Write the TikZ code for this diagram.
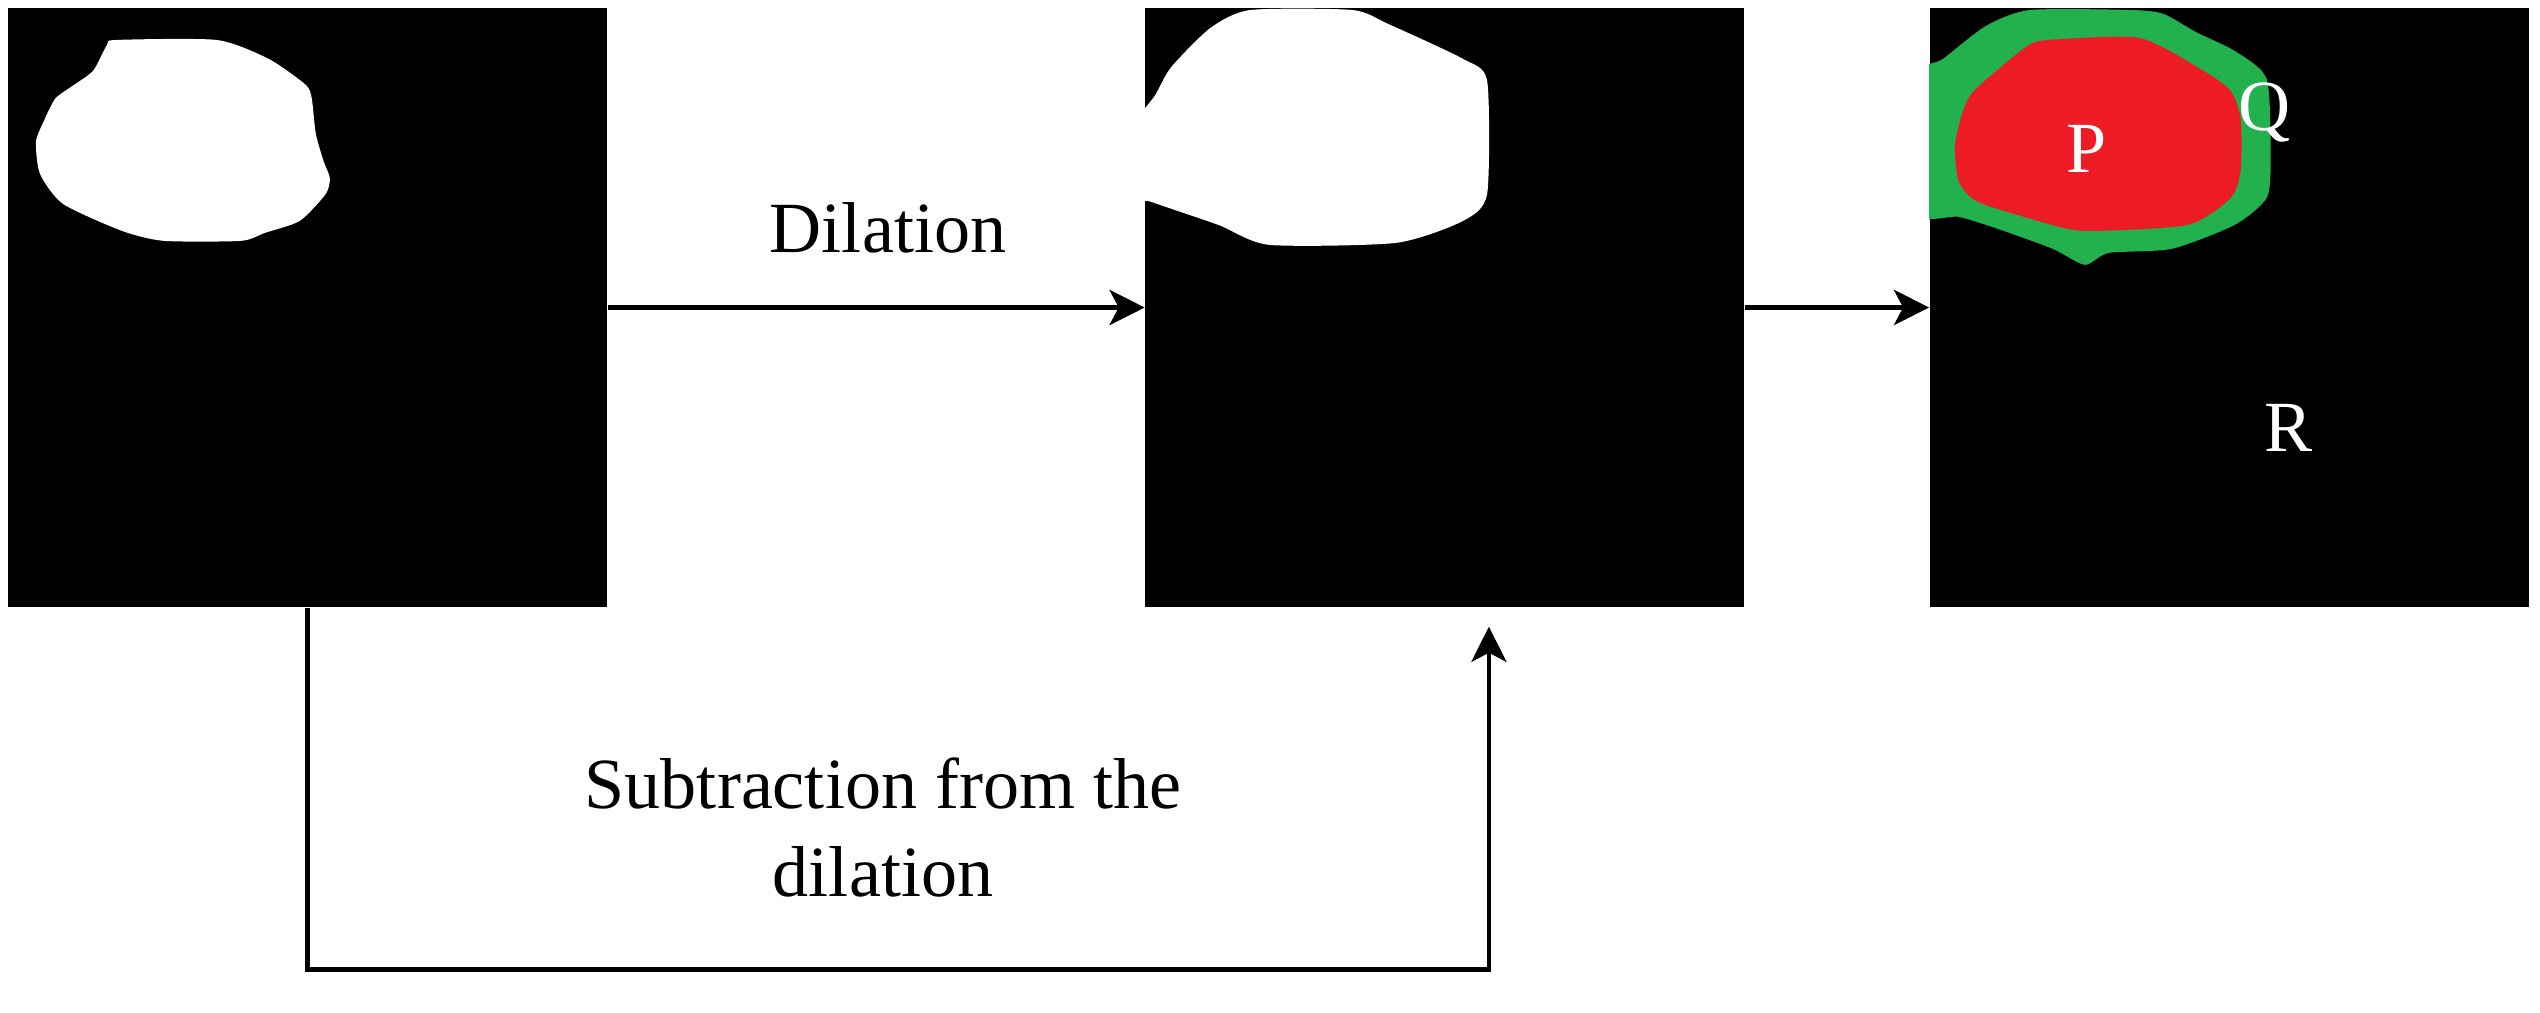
\documentclass[tikz,border=0pt]{standalone}
\usepackage{fontspec}
\setmainfont{Liberation Serif}
\usepackage{xcolor}
\usepackage{tikz}
\usetikzlibrary{arrows.meta, positioning, calc}

\definecolor{maskgreen}{HTML}{22B14C}
\definecolor{maskred}{HTML}{ED1C24}

\begin{document}
\begin{tikzpicture}[
    img/.style={rectangle, fill=black, minimum size=5.99cm, inner sep=0pt},
    line/.style={draw, -{Stealth[length=10pt, width=10pt, inset=2.6pt]}, line width=1.3pt},
    lbl/.style={font=\fontsize{20.5}{25}\selectfont, inner sep=0pt, anchor=base},
    tag/.style={lbl, text=white}
]
\useasboundingbox (0,0) rectangle (25.40,10.12);

\node [img] (orig) at (3.075,7.045) {};
\node [img, right=5.37cm of orig] (dil) {};
\node [img, right=1.84cm of dil] (res) {};

% blobs, in pixel units of the source image
\begin{scope}[yshift=10.12cm, x=0.01cm, y=-0.01cm]
\fill [white] plot [smooth cycle, tension=0.4] coordinates {
    (116,40) (217,40) (269,59) (306,85) (312,99) (316,134) (324,162) (330,178)
    (326,194) (300,221) (265,233) (241,241) (164,241) (122,231) (63,204)
    (40,174) (36,142) (43,123) (55,99) (71,87) (93,71) (107,45)};
\begin{scope}
\clip (dil.north west) rectangle (dil.south east);
\fill [white] plot [smooth cycle, tension=0.4] coordinates {
    (1251,10) (1353,10) (1389,24) (1464,59) (1488,81) (1488,194) (1464,221)
    (1397,243) (1270,245) (1219,225) (1152,202) (1140,196) (1138,124)
    (1156,95) (1172,67) (1211,28)};
\end{scope}
\begin{scope}
\clip (res.north west) rectangle (res.south east);
\fill [maskgreen] plot [smooth cycle, tension=0.4] coordinates {
    (1915,79) (1944,59) (1987,26) (2031,10) (2133,10) (2165,14) (2197,32)
    (2236,51) (2268,79) (2272,158) (2268,198) (2236,225) (2173,249)
    (2110,253) (2086,265) (2054,249) (1999,229) (1960,217) (1915,211)};
\end{scope}
\fill [maskred] plot [smooth cycle, tension=0.4] coordinates {
    (1975,91) (2027,47) (2050,40) (2141,38) (2205,71) (2232,91) (2242,119)
    (2242,170) (2232,198) (2189,225) (2086,231) (2039,221) (1979,202)
    (1960,182) (1956,146) (1963,115)};
\end{scope}

\node [tag] (p) at (20.87,8.40) {P};
\node [tag] (q) at (22.64,8.82) {Q};
\node [tag] (r) at (22.88,5.61) {R};

\coordinate (dilin) at ($(dil.south)+(0.44,-0.19)$);

\path [line] (orig) -- (dil);
\path [line] (dil) -- (res);
\path [line] (orig.south) -- ++(0,-3.62) -| (dilin);

\node [lbl] (dtext) at (8.88,7.60) {Dilation};
\node [lbl, align=center] (stext) at (8.83,1.16) {Subtraction from the\\dilation};

\end{tikzpicture}
\end{document}
